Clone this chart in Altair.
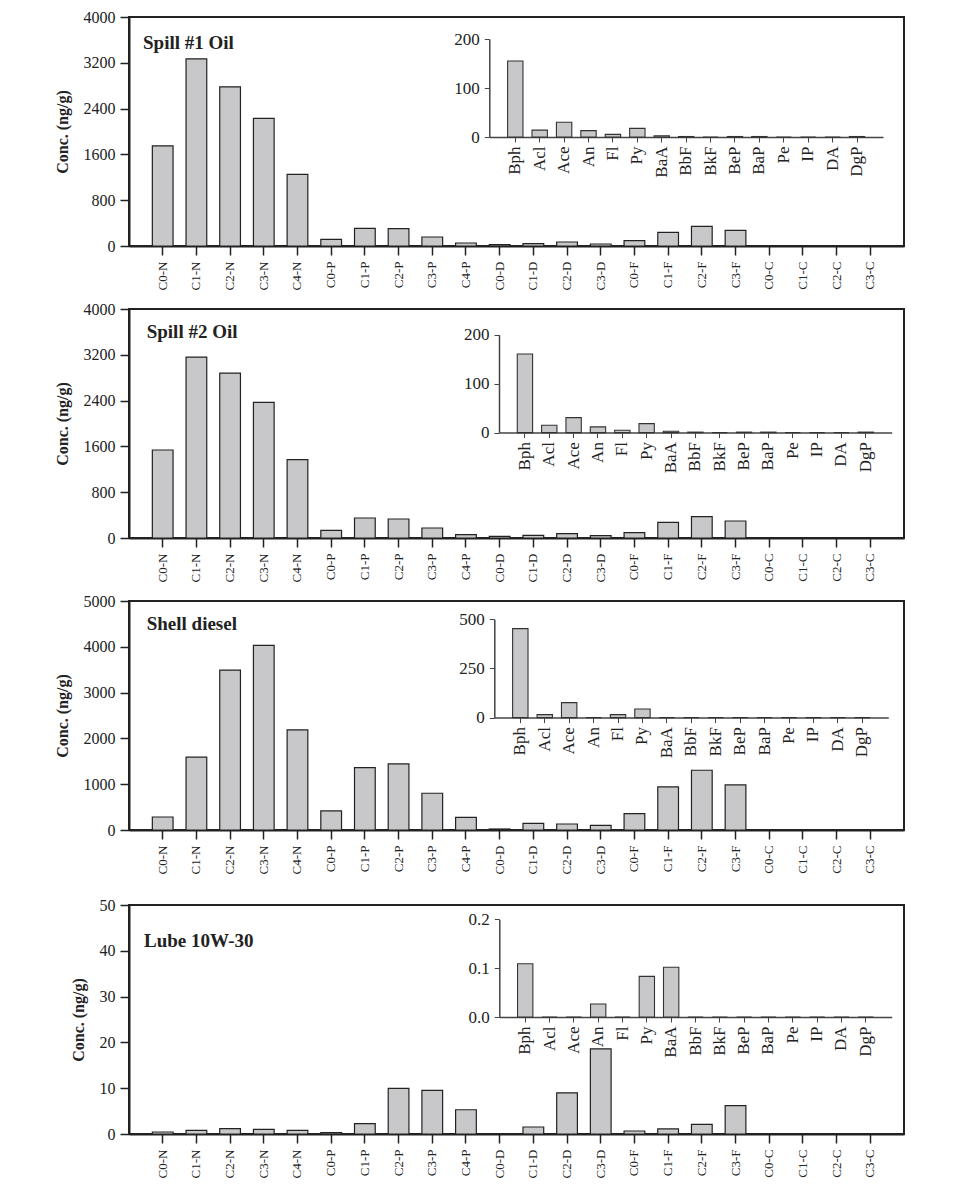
import altair as alt
import pandas as pd

# ---------------- data ----------------
main_cats = ["C0-N", "C1-N", "C2-N", "C3-N", "C4-N", "C0-P", "C1-P", "C2-P", "C3-P", "C4-P",
             "C0-D", "C1-D", "C2-D", "C3-D", "C0-F", "C1-F", "C2-F", "C3-F",
             "C0-C", "C1-C", "C2-C", "C3-C"]
inset_cats = ["Bph", "Acl", "Ace", "An", "Fl", "Py", "BaA", "BbF", "BkF", "BeP", "BaP",
              "Pe", "IP", "DA", "DgP"]

titles = ["Spill #1 Oil", "Spill #2 Oil", "Shell diesel", "Lube 10W-30"]

spill1_main = [1750, 3270, 2780, 2230, 1250, 116, 308, 302, 157, 52,
               23, 41, 70, 35, 93, 238, 343, 273, 0, 0, 0, 0]
spill1_inset = [155, 14, 30, 13, 5.4, 17.7, 2.7, 1, 0, 1, 1, 0, 0, 0, 1]

spill2_main = [1537, 3160, 2881, 2369, 1368, 134, 349, 332, 175, 58,
               29, 47, 76, 41, 93, 274, 372, 297, 0, 0, 0, 0]
spill2_inset = [160.5, 15, 30.6, 11.6, 4.8, 18.4, 2.7, 1, 0, 1, 1, 0, 0, 0, 1]

diesel_main = [284, 1589, 3492, 4031, 2187, 416, 1363, 1443, 802, 277,
               22, 146, 131, 102, 357, 940, 1305, 984, 0, 0, 0, 0]
diesel_inset = [452.6, 15, 76, 0, 15, 44, 0, 0, 0, 0, 0, 0, 0, 0, 0]

lube_main = [0.44, 0.8, 1.16, 1.0, 0.8, 0.3, 2.25, 9.96, 9.52, 5.3,
             0, 1.53, 9.0, 18.6, 0.65, 1.1, 2.1, 6.2, 0, 0, 0, 0]
lube_inset = [0.109, 0, 0, 0.0266, 0, 0.0833, 0.102, 0, 0, 0, 0, 0, 0, 0, 0]

mains = [spill1_main, spill2_main, diesel_main, lube_main]
insets = [spill1_inset, spill2_inset, diesel_inset, lube_inset]

main_max = [4000, 4000, 5000, 50]
main_ticks = [[0, 800, 1600, 2400, 3200, 4000],
              [0, 800, 1600, 2400, 3200, 4000],
              [0, 1000, 2000, 3000, 4000, 5000],
              [0, 10, 20, 30, 40, 50]]
inset_max = [200, 200, 500, 0.2]
inset_ticks = [[0, 100, 200], [0, 100, 200], [0, 250, 500], [0, 0.1, 0.2]]
inset_fmt = ["d", "d", "d", ".1f"]

# ---------------- layout / style ----------------
W, H = 775, 229
inset_x0 = [360.3, 370.0, 365.3, 370.3]
inset_x1 = [754.0, 762.7, 759.3, 762.7]
inset_top = [22.0, 25.6, 18.3, 14.4]
inset_zero = [120.0, 123.6, 116.6, 112.0]
title_x = [14, 17.7, 17.7, 15]
title_y = [26, 23.3, 23.3, 36]
extra_top = [0, 0, 0, 11.6]

SERIF = "Liberation Serif"
FILL = "#c8c8ca"
INK = "#222222"


def panel(i):
    dm = pd.DataFrame({"cat": main_cats, "v": mains[i]})
    di = pd.DataFrame({"cat": inset_cats, "v": insets[i]})
    dt = pd.DataFrame({"t": [titles[i]]})

    main = alt.Chart(dm).mark_bar(fill=FILL, stroke=INK, strokeWidth=1.2).encode(
        x=alt.X("cat:N", sort=main_cats, title=None,
                scale=alt.Scale(paddingInner=0.385, paddingOuter=0.6925),
                axis=alt.Axis(orient="bottom", labelAngle=-90, labelFontSize=13,
                              tickSize=9, tickWidth=1.5, labelPadding=6,
                              domainWidth=2)),
        y=alt.Y("v:Q", title="Conc. (ng/g)",
                scale=alt.Scale(domain=[0, main_max[i]], nice=False),
                axis=alt.Axis(orient="left", values=main_ticks[i], format="d",
                              tickSize=9, tickWidth=1.5, labelFontSize=16,
                              labelPadding=5, titleFontSize=16,
                              titleFontWeight="bold", titlePadding=13,
                              domainWidth=2)),
    )

    title = alt.Chart(dt).mark_text(
        align="left", baseline="middle", font=SERIF, fontWeight="bold",
        fontSize=19, color=INK
    ).encode(x=alt.value(title_x[i]), y=alt.value(title_y[i]), text="t:N")

    inset = alt.Chart(di).mark_bar(fill=FILL, stroke="#333333", strokeWidth=1.1).encode(
        x=alt.X("cat:N", sort=inset_cats, title=None,
                scale=alt.Scale(range=[inset_x0[i], inset_x1[i]],
                                paddingInner=0.37, paddingOuter=0.75),
                axis=alt.Axis(orient="bottom", offset=inset_zero[i] - H,
                              labelAngle=-90, labelFontSize=17, tickSize=5,
                              labelPadding=4, domainWidth=1.5, domainColor="#444444",
                              tickColor="#444444")),
        y=alt.Y("v:Q", title=None,
                scale=alt.Scale(domain=[0, inset_max[i]],
                                range=[inset_zero[i], inset_top[i]], nice=False),
                axis=alt.Axis(orient="left", offset=-inset_x0[i],
                              values=inset_ticks[i], format=inset_fmt[i],
                              tickSize=5, labelFontSize=17, labelPadding=5,
                              domainWidth=1.5, domainColor="#444444",
                              tickColor="#444444")),
    )

    layers = [main, title, inset]
    if extra_top[i] > 0:
        # invisible spacer that enlarges the panel's bounds upward
        spacer = alt.Chart(dt).mark_rule(strokeOpacity=0, opacity=0).encode(
            x=alt.value(0), x2=alt.value(2), y=alt.value(-8 - extra_top[i])
        )
        layers.append(spacer)

    return alt.layer(*layers).resolve_scale(
        x="independent", y="independent"
    ).properties(width=W, height=H)


chart = alt.vconcat(panel(0), panel(1), panel(2), panel(3), spacing=9).properties(
    padding={"left": 45, "top": 0, "right": 5, "bottom": 5},
    background="white",
).configure_view(
    stroke=INK, strokeWidth=2
).configure_axis(
    labelFont=SERIF, titleFont=SERIF, labelColor=INK, titleColor=INK,
    domainColor=INK, tickColor=INK, grid=False
)

chart.save("out.html", embed_options={"renderer": "svg", "actions": False})
